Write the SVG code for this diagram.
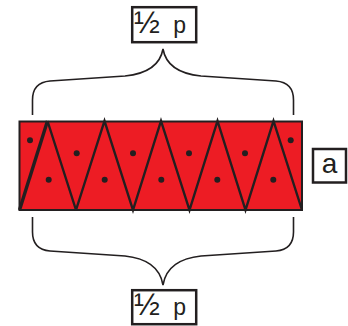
<svg xmlns="http://www.w3.org/2000/svg" width="348" height="326" viewBox="0 0 348 326">
<style>
.box{fill:#fff;stroke:#231f20;stroke-width:2.5}
.lbl{font-family:"Liberation Sans",Arial,sans-serif;fill:#231f20}
.half{font-size:31px}
.brace{fill:none;stroke:#231f20;stroke-width:1.6}
.zig{fill:none;stroke:#231f20;stroke-width:2.4;stroke-linejoin:miter}
.dot{fill:#231f20}
</style>
<rect width="348" height="326" fill="#fff"/>
<g id="strip">
<rect x="19.5" y="121.5" width="282.5" height="88.5" fill="#ed1c24" stroke="#231f20" stroke-width="2"/>
<path class="zig" d="M76,210 L104.5,121 L133,210 L161,121 L189.5,210 L217.5,121 L245.5,210 L273.5,121 L302,210 M47.5,121 L76,210"/>
<path d="M19.5,210 L47.5,121" fill="none" stroke="#231f20" stroke-width="3.4"/>
<circle class="dot" cx="30" cy="140.3" r="3"/>
<circle class="dot" cx="48.7" cy="179.7" r="3"/>
<circle class="dot" cx="76.7" cy="153.3" r="3"/>
<circle class="dot" cx="104.7" cy="179.7" r="3"/>
<circle class="dot" cx="133" cy="153.3" r="3"/>
<circle class="dot" cx="161.3" cy="179.7" r="3"/>
<circle class="dot" cx="189" cy="153.3" r="3"/>
<circle class="dot" cx="217.3" cy="179.7" r="3"/>
<circle class="dot" cx="245" cy="153.3" r="3"/>
<circle class="dot" cx="273.3" cy="179.7" r="3"/>
<circle class="dot" cx="290.7" cy="140.3" r="3"/>
</g>
<g id="label-a">
<rect class="box" x="313" y="149" width="33" height="33.5"/>
<text class="lbl" x="329.5" y="173.3" font-size="28" text-anchor="middle">a</text>
</g>
<g id="label-top">
<rect class="box" x="132.2" y="7.2" width="64" height="35"/>
<text class="lbl" x="134" y="32.5" font-size="23" textLength="52" lengthAdjust="spacing"><tspan class="half">½</tspan> p</text>
</g>
<g id="label-bottom">
<rect class="box" x="132.2" y="290.2" width="64" height="34"/>
<text class="lbl" x="134" y="315" font-size="23" textLength="52" lengthAdjust="spacing"><tspan class="half">½</tspan> p</text>
</g>
<g id="connectors">
<path class="brace" d="M32.5,115 L32.5,100 C32.5,88 38,82 50,81 L125,76 C145,74 160,66 163,49 C166,66 181,74 201,76 L276,81 C288,82 293.5,88 293.5,100 L293.5,115"/>
<path class="brace" d="M32.5,217 L32.5,232 C32.5,244 38,250 50,251 L125,256 C145,258 160,267 163,285 C166,267 181,258 201,256 L276,251 C288,250 293.5,244 293.5,232 L293.5,217"/>
</g>
</svg>
